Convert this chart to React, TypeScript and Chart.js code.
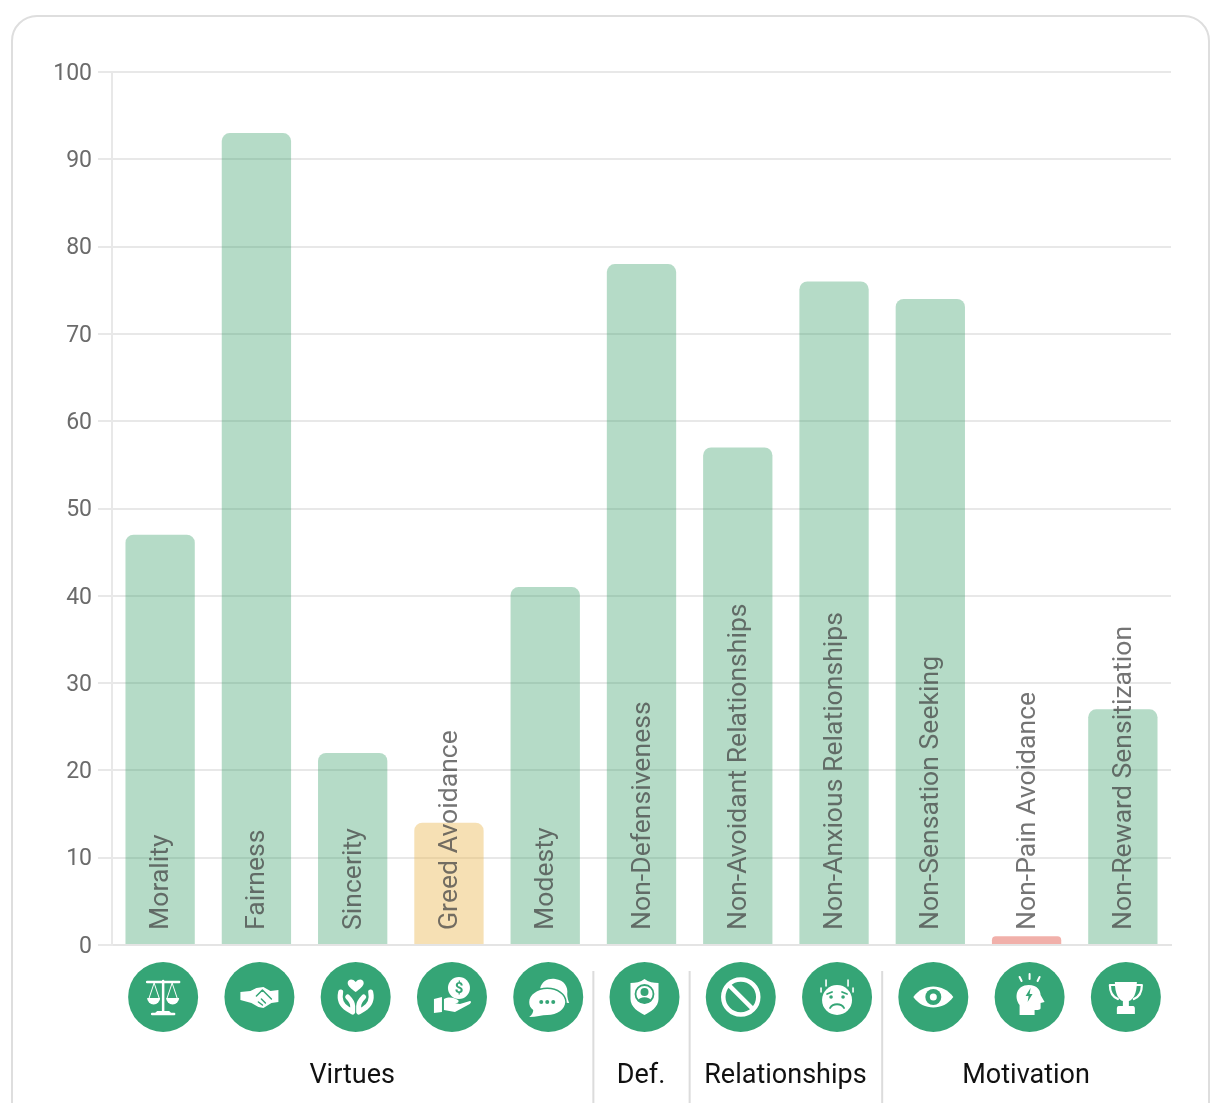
import React, { useRef, useEffect } from 'react';
import Chart from 'chart.js/auto';

const categories = [
  'Morality', 'Fairness', 'Sincerity', 'Greed Avoidance', 'Modesty', 'Non-Defensiveness',
  'Non-Avoidant Relationships', 'Non-Anxious Relationships', 'Non-Sensation Seeking',
  'Non-Pain Avoidance', 'Non-Reward Sensitization',
];
const scores = [47, 93, 22, 14, 41, 78, 57, 76, 74, 1, 27];
const barColors = [
  'green', 'green', 'green', 'yellow', 'green', 'green', 'green', 'green', 'green', 'red', 'green',
];
const groupNames = ['Virtues', 'Def.', 'Relationships', 'Motivation'];
const groupFirst = [0, 5, 6, 8];
const groupLast = [4, 5, 7, 10];

const palette: Record<string, string> = {
  green: 'rgba(50, 155, 100, 0.36)',
  yellow: 'rgba(235, 185, 85, 0.44)',
  red: 'rgba(224, 80, 66, 0.45)',
};
const ICON_GREEN = '#35a576';
const FONT = 'Roboto, sans-serif';

// little white glyphs, drawn around 0,0 inside a 35px radius circle
function drawIcon(ctx: CanvasRenderingContext2D, i: number) {
  const fill = (d: string) => ctx.fill(new Path2D(d));
  const stroke = (d: string, w: number) => {
    ctx.lineWidth = w;
    ctx.stroke(new Path2D(d));
  };
  const dot = (x: number, y: number, r: number) => {
    ctx.beginPath();
    ctx.arc(x, y, r, 0, Math.PI * 2);
    ctx.fill();
  };
  ctx.fillStyle = '#fff';
  ctx.strokeStyle = '#fff';
  ctx.lineCap = 'round';
  ctx.lineJoin = 'round';
  if (i === 0) {
    // scales
    stroke('M-16 -15H16M0 -16V15M-11 17H11', 2.5);
    stroke('M-9 -14L-14 1M-9 -14L-4 1M9 -14L4 1M9 -14L14 1', 1);
    fill('M-16 1H-3A6.5 6.5 0 0 1 -16 1Z');
    fill('M3 1H16A6.5 6.5 0 0 1 3 1Z');
    fill('M-6 14L6 14L9 17H-9Z');
  } else if (i === 1) {
    // handshake
    fill('M-19 -5L-9 -6L-3 -9L4 -10L11 -6L19 -7V5L12 6L4 11L-1 10L-8 6L-19 3Z');
    ctx.strokeStyle = ICON_GREEN;
    stroke('M-3 -1L3 -7L12 2M2 2L6 6M-1 5L3 8', 1.5);
  } else if (i === 2) {
    // hands around a heart
    fill('M0 -5C-4 -8 -8 -11 -8 -14C-8 -18 -3 -19 0 -15C3 -19 8 -18 8 -14C8 -11 4 -8 0 -5Z');
    stroke('M-15 -5C-17 4 -13 9 -8 12L-3 15V9C-3 6 -5 3 -8 0', 5);
    stroke('M15 -5C17 4 13 9 8 12L3 15V9C3 6 5 3 8 0', 5);
  } else if (i === 3) {
    // hand holding a coin
    dot(7, -9, 11);
    ctx.fillStyle = ICON_GREEN;
    ctx.font = `bold 15px ${FONT}`;
    ctx.textAlign = 'center';
    ctx.textBaseline = 'middle';
    ctx.fillText('$', 7, -8);
    ctx.fillStyle = '#fff';
    fill('M-18 2L-10 0V15L-18 16Z');
    fill('M-8 2C-2 -1 2 1 6 3C8 5 5 7 1 6L8 7L18 4C20 4 19 7 16 8L3 15L-8 13Z');
  } else if (i === 4) {
    // speech bubbles
    fill('M-8 -9C-6 -16 0 -19 7 -18C16 -17 20 -10 19 -3C19 0 20 4 21 6C17 6 14 5 12 3C4 3 -6 -2 -8 -9Z');
    ctx.strokeStyle = ICON_GREEN;
    stroke('M-1 -8C9 -8 17 -2 17 5C17 12 9 18 -1 18C-6 18 -12 20 -19 20C-16 18 -15 15 -15 13C-18 11 -19 8 -19 5C-19 -2 -11 -8 -1 -8Z', 3);
    fill('M-1 -8C9 -8 17 -2 17 5C17 12 9 18 -1 18C-6 18 -12 20 -19 20C-16 18 -15 15 -15 13C-18 11 -19 8 -19 5C-19 -2 -11 -8 -1 -8Z');
    ctx.fillStyle = ICON_GREEN;
    dot(-7, 5, 2);
    dot(-1, 5, 2);
    dot(5, 5, 2);
  } else if (i === 5) {
    // shield with a person
    fill('M0 -18C4 -15 9 -14 14 -14V2C14 10 6 15 0 18C-6 15 -14 10 -14 2V-14C-9 -14 -4 -15 0 -18Z');
    ctx.strokeStyle = ICON_GREEN;
    ctx.beginPath();
    ctx.lineWidth = 1.8;
    ctx.arc(0, -3, 9, 0, Math.PI * 2);
    ctx.stroke();
    ctx.fillStyle = ICON_GREEN;
    dot(0, -5, 4);
    fill('M-7 4C-5 -1 5 -1 7 4C3 7 -3 7 -7 4Z');
  } else if (i === 6) {
    // no entry
    ctx.beginPath();
    ctx.lineWidth = 4.5;
    ctx.arc(0, 0, 17.5, 0, Math.PI * 2);
    ctx.stroke();
    ctx.lineCap = 'butt';
    stroke('M-12 -12L12 12', 4.5);
  } else if (i === 7) {
    // worried face
    dot(0, 3, 15);
    ctx.fillStyle = ICON_GREEN;
    dot(-6, 0, 1.8);
    dot(6, 0, 1.8);
    ctx.strokeStyle = ICON_GREEN;
    stroke('M-7 11C-4 6 4 6 7 11M-10 -3L-5 -5M10 -3L5 -5', 1.8);
    ctx.strokeStyle = '#fff';
    stroke('M-16 -9V-5M16 -9V-5M-11 -17V-11M11 -17V-11', 1.6);
  } else if (i === 8) {
    // eye
    fill('M-20 0C-10 -14 10 -14 20 0C10 14 -10 14 -20 0Z');
    ctx.fillStyle = ICON_GREEN;
    dot(0, 0, 8);
    ctx.fillStyle = '#fff';
    dot(0, 0, 3.5);
  } else if (i === 9) {
    // head with a spark
    fill('M-10 18V8C-16 0 -13 -12 -1 -12C8 -12 11 -6 11 -2L15 5L11 6V11C11 13 8 13 5 13V18Z');
    stroke('M0 -23V-18M-10 -20L-8 -16M10 -20L8 -16', 2);
    ctx.fillStyle = ICON_GREEN;
    fill('M1 -9L-4 -1H-1L-2 5L3 -3H0Z');
  } else {
    // trophy
    fill('M-11 -15H11C11 -3 7 3 3 4V9H7C9 9 9 11 9 12V17H-9V12C-9 11 -9 9 -7 9H-3V4C-7 3 -11 -3 -11 -15Z');
    stroke('M-11 -12H-16C-16 -4 -13 0 -8 2M11 -12H16C16 -4 13 0 8 2', 2.2);
  }
}

// category names inside the bars, icon row, group names and dividers under the axis
const overlayPlugin = {
  id: 'overlay',
  beforeDraw(chart: any) {
    // y tick labels sit 2px higher than in the reference
    chart.scales.y.getLabelItems().forEach((item: any) => {
      if (!item.shifted) {
        item.options.translation[1] += 2;
        item.shifted = true;
      }
    });
  },
  afterDatasetsDraw(chart: any) {
    const { ctx, scales } = chart;
    const xs = scales.x;
    const base = scales.y.getPixelForValue(0);
    ctx.save();
    categories.forEach((name, i) => {
      ctx.save();
      ctx.translate(xs.getPixelForValue(i) + 8, base - 15);
      ctx.rotate(-Math.PI / 2);
      ctx.font = `400 26.6px ${FONT}`;
      ctx.fillStyle = 'rgba(70, 70, 70, 0.75)';
      ctx.textAlign = 'left';
      ctx.textBaseline = 'alphabetic';
      ctx.fillText(name, 0, 0);
      ctx.restore();
    });
    categories.forEach((_, i) => {
      ctx.save();
      ctx.translate(xs.getPixelForValue(i) + 3, base + 52);
      ctx.fillStyle = ICON_GREEN;
      ctx.beginPath();
      ctx.arc(0, 0, 35, 0, Math.PI * 2);
      ctx.fill();
      drawIcon(ctx, i);
      ctx.restore();
    });
    groupNames.forEach((name, g) => {
      const mid = (groupFirst[g] + groupLast[g]) / 2;
      ctx.font = `400 27px ${FONT}`;
      ctx.fillStyle = '#111';
      ctx.textAlign = 'center';
      ctx.textBaseline = 'middle';
      ctx.fillText(name, xs.getPixelForValue(mid) - 0.5, base + 131);
      if (g > 0) {
        const left = xs.getPixelForValue(groupFirst[g] - 0.5);
        ctx.fillStyle = '#dcdcdc';
        ctx.fillRect(left - 1, base + 26, 2, 140);
      }
    });
    ctx.restore();
  },
};

const App: React.FC = () => {
  const chartRef = useRef<HTMLCanvasElement>(null);

  useEffect(() => {
    if (!chartRef.current) return;
    const chart = new Chart(chartRef.current, {
      type: 'bar',
      data: {
        labels: categories,
        datasets: [
          {
            data: scores,
            backgroundColor: barColors.map((c) => palette[c]),
            borderWidth: 0,
            borderRadius: 8,
            borderSkipped: 'bottom',
            barPercentage: 0.72,
            categoryPercentage: 1,
          },
        ],
      },
      options: {
        responsive: false,
        devicePixelRatio: 1,
        animation: false,
        layout: { padding: { top: 72, right: 56, bottom: 150, left: 0 } },
        plugins: { legend: { display: false }, tooltip: { enabled: false } },
        scales: {
          x: {
            ticks: { display: false },
            grid: { display: false },
            border: { color: '#e4e4e4', width: 2 },
          },
          y: {
            min: 0,
            max: 100,
            afterFit: (scale: any) => {
              scale.width = 112;
            },
            ticks: {
              stepSize: 10,
              color: '#6b6b6b',
              font: { family: FONT, size: 23 },
              padding: 6,
            },
            grid: { color: '#e8e8e8', lineWidth: 2, tickLength: 14 },
            border: { color: '#e8e8e8', width: 2 },
          },
        },
      },
      plugins: [overlayPlugin],
    } as any);
    return () => {
      chart.destroy();
    };
  }, []);

  return (
    <div style={{ position: 'absolute', left: 0, top: 0, width: 1227, height: 1103, overflow: 'hidden', background: '#fff' }}>
      <div
        style={{
          position: 'absolute',
          left: 11,
          top: 15,
          width: 1199,
          height: 1300,
          boxSizing: 'border-box',
          border: '2px solid #dedede',
          borderRadius: 26,
        }}
      />
      <canvas ref={chartRef} width={1227} height={1103} style={{ position: 'absolute', left: 0, top: 0 }} />
    </div>
  );
};

export default App;
